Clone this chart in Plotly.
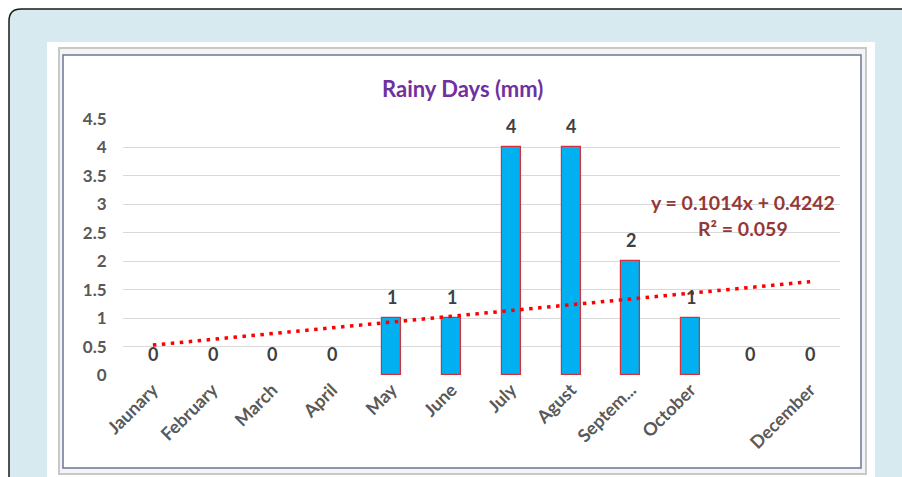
import plotly.graph_objects as go

# Monthly rainy days and category labels
months = ["Jaunary", "February", "March", "April", "May", "June",
          "July", "Agust", "Septem...", "October", "", "December"]
rainy_days = [0, 0, 0, 0, 1, 1, 4, 4, 2, 1, 0, 0]
trend_slope = 0.1014
trend_intercept = 0.4242
r_squared = 0.059
y_ticks = [0, 0.5, 1, 1.5, 2, 2.5, 3, 3.5, 4, 4.5]

x_pos = list(range(1, len(months) + 1))
trend_y = [trend_slope * x + trend_intercept for x in x_pos]

W, H = 902, 477
L, R, T, B = 123, 840, 119, 375
FONT = "Lato"


def px(p):
    return (p - L) / (R - L)


def py(p):
    return (B - p) / (B - T)


fig = go.Figure()

fig.add_trace(go.Bar(
    x=x_pos, y=rainy_days, width=0.32,
    marker=dict(color="#00b0f0",
                line=dict(color="#d8303a", width=[0 if v == 0 else 1.2 for v in rainy_days])),
    hoverinfo="skip", showlegend=False,
))

fig.add_trace(go.Scatter(
    x=x_pos, y=trend_y, mode="lines",
    line=dict(color="#ff0000", width=3.5, dash="3.5px,5.5px"),
    hoverinfo="skip", showlegend=False,
))

# value labels above each bar
for x, v in zip(x_pos, rainy_days):
    fig.add_annotation(x=x, y=v, text=str(v), showarrow=False, yshift=21,
                       xanchor="center", yanchor="middle",
                       font=dict(family=FONT, size=18, color="#404040", weight="bold"))

# trendline equation
fig.add_annotation(x=px(743), y=py(202), xref="paper", yref="paper",
                   xanchor="center", yanchor="middle",
                   text=f"y = {trend_slope}x + {trend_intercept}", showarrow=False,
                   font=dict(family=FONT, size=19.5, color="#953735", weight="bold"))
fig.add_annotation(x=px(743), y=py(228), xref="paper", yref="paper",
                   xanchor="center", yanchor="middle",
                   text=f"R² = {r_squared}", showarrow=False,
                   font=dict(family=FONT, size=19.5, color="#953735", weight="bold"))

# title
fig.add_annotation(x=px(462), y=py(88), xref="paper", yref="paper",
                   xanchor="center", yanchor="middle",
                   text="Rainy Days (mm)", showarrow=False,
                   font=dict(family=FONT, size=22, color="#7030a0", weight="bold"))

# page background: rounded panel, white sheet and chart frame
r = 12
panel = (f"M {px(9)},{py(520)} L {px(9)},{py(9 + r)} "
         f"Q {px(9)},{py(9)} {px(9 + r)},{py(9)} "
         f"L {px(930)},{py(9)} L {px(930)},{py(520)} Z")
shapes = [
    dict(type="path", path=panel, xref="paper", yref="paper",
         fillcolor="#d6eaf0", line=dict(color="#1a1a1a", width=1.5), layer="below"),
    dict(type="rect", x0=px(47), x1=px(875), y0=py(42), y1=py(520),
         xref="paper", yref="paper", fillcolor="#ffffff", line=dict(width=0), layer="below"),
    dict(type="rect", x0=px(59), x1=px(866), y0=py(48), y1=py(474),
         xref="paper", yref="paper", fillcolor="#f4f4f4",
         line=dict(color="#c8c8c8", width=2), layer="below"),
    dict(type="rect", x0=px(63), x1=px(861), y0=py(55), y1=py(468),
         xref="paper", yref="paper", fillcolor="#ffffff",
         line=dict(color="#6a7896", width=1.5), layer="below"),
]

fig.update_layout(
    width=W, height=H,
    margin=dict(l=L, r=W - R, t=T, b=H - B, pad=0),
    paper_bgcolor="#ffffff",
    plot_bgcolor="rgba(0,0,0,0)",
    shapes=shapes,
    bargap=0,
    xaxis=dict(
        range=[0.5, 12.5], tickmode="array", tickvals=x_pos, ticktext=months,
        tickangle=-45, showgrid=False, zeroline=False, showline=False,
        ticks="", ticklen=0,
        tickfont=dict(family=FONT, size=18, color="#595959", weight="bold"),
    ),
    yaxis=dict(
        range=[0, 4.5], tickmode="array", tickvals=y_ticks,
        ticktext=[f"{t:g}" for t in y_ticks],
        showgrid=True, gridcolor="#d9d9d9", gridwidth=1,
        zeroline=False, showline=False,
        ticks="outside", ticklen=12, tickcolor="rgba(0,0,0,0)",
        tickfont=dict(family=FONT, size=17, color="#595959", weight="bold"),
    ),
)

fig.write_html("out.html")
